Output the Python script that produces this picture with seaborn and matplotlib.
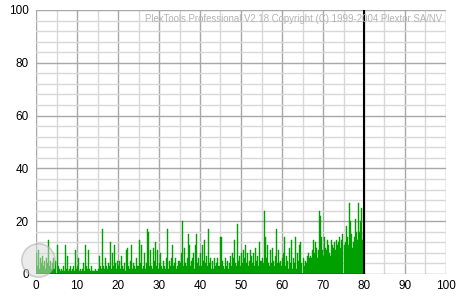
import numpy as np
import pandas as pd
import matplotlib
matplotlib.use("Agg")
import matplotlib.pyplot as plt
import seaborn as sns

# ---- data ----
# C1 error counts, 4 samples per minute, minutes 0..80
c1_values = [
    8, 3, 9, 2,   6, 4, 7, 3,   5, 2, 6, 4,   13, 3, 5, 2,   4, 6, 2, 5,
    11, 3, 2, 1,  2, 1, 3, 1,   11, 2, 7, 1,  2, 3, 1, 2,    3, 1, 9, 2,
    3, 6, 1, 2,   1, 2, 4, 1,   11, 3, 2, 9,  2, 1, 3, 1,    1, 1, 2, 1,
    2, 7, 3, 2,   17, 3, 2, 6,  3, 2, 4, 3,   12, 2, 8, 3,   11, 4, 2, 5,
    3, 5, 2, 7,   3, 2, 4, 1,   9, 10, 3, 2,  5, 11, 2, 4,   3, 2, 6, 3,
    13, 4, 11, 2, 3, 8, 2, 4,   17, 16, 3, 9, 3, 2, 10, 5,   12, 3, 9, 2,
    4, 8, 3, 2,   5, 3, 2, 6,   17, 2, 5, 3,  6, 11, 3, 4,   6, 2, 3, 5,
    4, 8, 20, 3,  10, 4, 3, 6,  15, 11, 3, 5, 6, 8, 2, 11,   15, 4, 6, 3,
    8, 3, 11, 5,  13, 4, 7, 3,  17, 4, 6, 2,  5, 2, 6, 3,    4, 6, 3, 3,
    14, 5, 3, 2,  6, 3, 5, 2,   4, 7, 3, 8,   6, 13, 4, 3,   19, 5, 7, 3,
    8, 4, 9, 6,   11, 4, 8, 3,  5, 9, 7, 4,   8, 3, 10, 5,   7, 3, 12, 5,
    6, 4, 24, 14, 6, 11, 4, 3,  9, 4, 10, 5,  3, 7, 17, 4,   9, 4, 5, 3,
    6, 8, 14, 3,  7, 5, 2, 10,  4, 13, 2, 6,  4, 14, 2, 8,   5, 11, 12, 4,
    6, 3, 5, 4,   7, 8, 6, 7,   6, 9, 13, 8,  12, 10, 6, 9,  24, 22, 14, 9,
    7, 14, 10, 9, 13, 11, 8, 7, 13, 11, 10, 12, 9, 13, 11, 12, 14, 10, 13, 15,
    11, 12, 18, 14, 11, 27, 20, 15, 10, 12, 14, 21, 16, 13, 27, 16, 20, 25, 13, 16,
]
c1_minutes = np.arange(len(c1_values)) * 0.25 + 0.125
c2_minutes = [0, 80]
c2_values = [0, 0]
end_of_disc = 80
x_ticks = [0, 10, 20, 30, 40, 50, 60, 70, 80, 90, 100]
y_ticks = [0, 20, 40, 60, 80, 100]
title_text = "PlexTools Professional V2.18 Copyright (C) 1999-2004 Plextor SA/NV"

df = pd.DataFrame({"minute": c1_minutes, "c1": c1_values})

sns.set_style("white")
plt.rcParams["font.family"] = ["Liberation Sans", "DejaVu Sans"]

fig = plt.figure(figsize=(4.67, 3.00), dpi=100)
ax = fig.add_axes([36 / 467, 26 / 300, 410 / 467, 264 / 300])

# grid
for v in np.arange(0, 101, 5):
    ax.axvline(v, color="#a8a8a8" if v % 10 == 0 else "#d8d8d8", lw=1, zorder=0)
for v in np.arange(0, 101, 4):
    ax.axhline(v, color="#a8a8a8" if v % 20 == 0 else "#d8d8d8", lw=1, zorder=0)

sns.histplot(data=df, x="minute", weights="c1", binwidth=0.25, binrange=(0, 80),
             color="#00a000", alpha=1, linewidth=0.3, edgecolor="#00a000",
             ax=ax, zorder=2)
sns.lineplot(x=c2_minutes, y=c2_values, color="#ff0000", lw=2, ax=ax, zorder=3)
ax.axvline(end_of_disc, color="black", lw=1.5, zorder=4)

ax.set_xlim(0, 100)
ax.set_ylim(0, 100)
ax.set_xticks(x_ticks)
ax.set_yticks(y_ticks)
ax.set_xlabel("")
ax.set_ylabel("")
ax.tick_params(axis="both", labelsize=8.5, colors="black", length=3, width=1, pad=2)
ax.tick_params(axis="both", color="#a8a8a8")
ax.tick_params(axis="x", length=0, pad=4)
for s in ax.spines.values():
    s.set_visible(False)

ax.text(0.265, 0.965, title_text, transform=ax.transAxes, fontsize=6.95,
        color="#b4b4b4", ha="left", va="center", zorder=5)

# disc watermark
ax.plot([0.5], [5.3], marker="o", markersize=24, markerfacecolor="#d8d8d8",
        markeredgecolor="#a8a8a8", markeredgewidth=1.2, alpha=0.5,
        clip_on=False, zorder=6)

fig.savefig("out.png", dpi=100, facecolor="white")
